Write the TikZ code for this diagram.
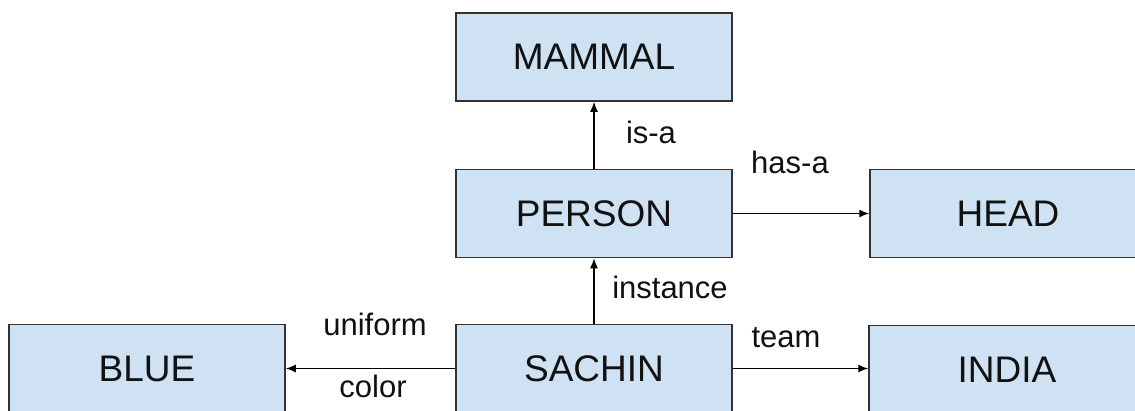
\documentclass[tikz,border=0pt]{standalone}
\usepackage{fontspec}
\setmainfont{Liberation Sans}
\usetikzlibrary{arrows.meta}
\definecolor{boxfill}{HTML}{CFE2F3}
\definecolor{boxline}{HTML}{333333}
\definecolor{txt}{HTML}{111111}
\begin{document}
\begin{tikzpicture}[x=1pt,y=-1pt,
  box/.style={draw=boxline, line width=1.5pt, fill=boxfill, minimum width=276pt,
    minimum height=88pt, inner sep=0pt, text=txt, font=\fontsize{37}{40}\selectfont},
  lbl/.style={anchor=base, inner sep=0pt, text=txt, font=\fontsize{31}{34}\selectfont},
  conn/.style={draw=black, line width=1.4pt, -{Latex[length=10pt,width=8pt]}}]
\useasboundingbox (0,0) rectangle (1135,410);
\clip (0,0) rectangle (1135,410);
\fill[white] (0,0) rectangle (1135,410);
\node[box] (mammal) at (594,57) {MAMMAL};
\node[box] (person) at (594,213.5) {PERSON};
\node[box] (head) at (1008,213.5) {HEAD};
\node[box] (blue) at (147,368.5) {BLUE};
\node[box] (sachin) at (594,368.5) {SACHIN};
\node[box] (india) at (1007,369.5) {INDIA};
\draw[conn] (person.north) -- (mammal.south);
\draw[conn] (person.east) -- (head.west);
\draw[conn] (sachin.north) -- (person.south);
\draw[conn] (sachin.west) -- (blue.east);
\draw[conn] (sachin.east) -- (sachin.east -| india.west);
\node[lbl] (isa) at (651,143) {is-a};
\node[lbl] (hasa) at (790,173) {has-a};
\node[lbl] (inst) at (670,298) {instance};
\node[lbl] (unif) at (375,335) {uniform};
\node[lbl] (col) at (373,397) {color};
\node[lbl] (team) at (786,347) {team};
\end{tikzpicture}
\end{document}
